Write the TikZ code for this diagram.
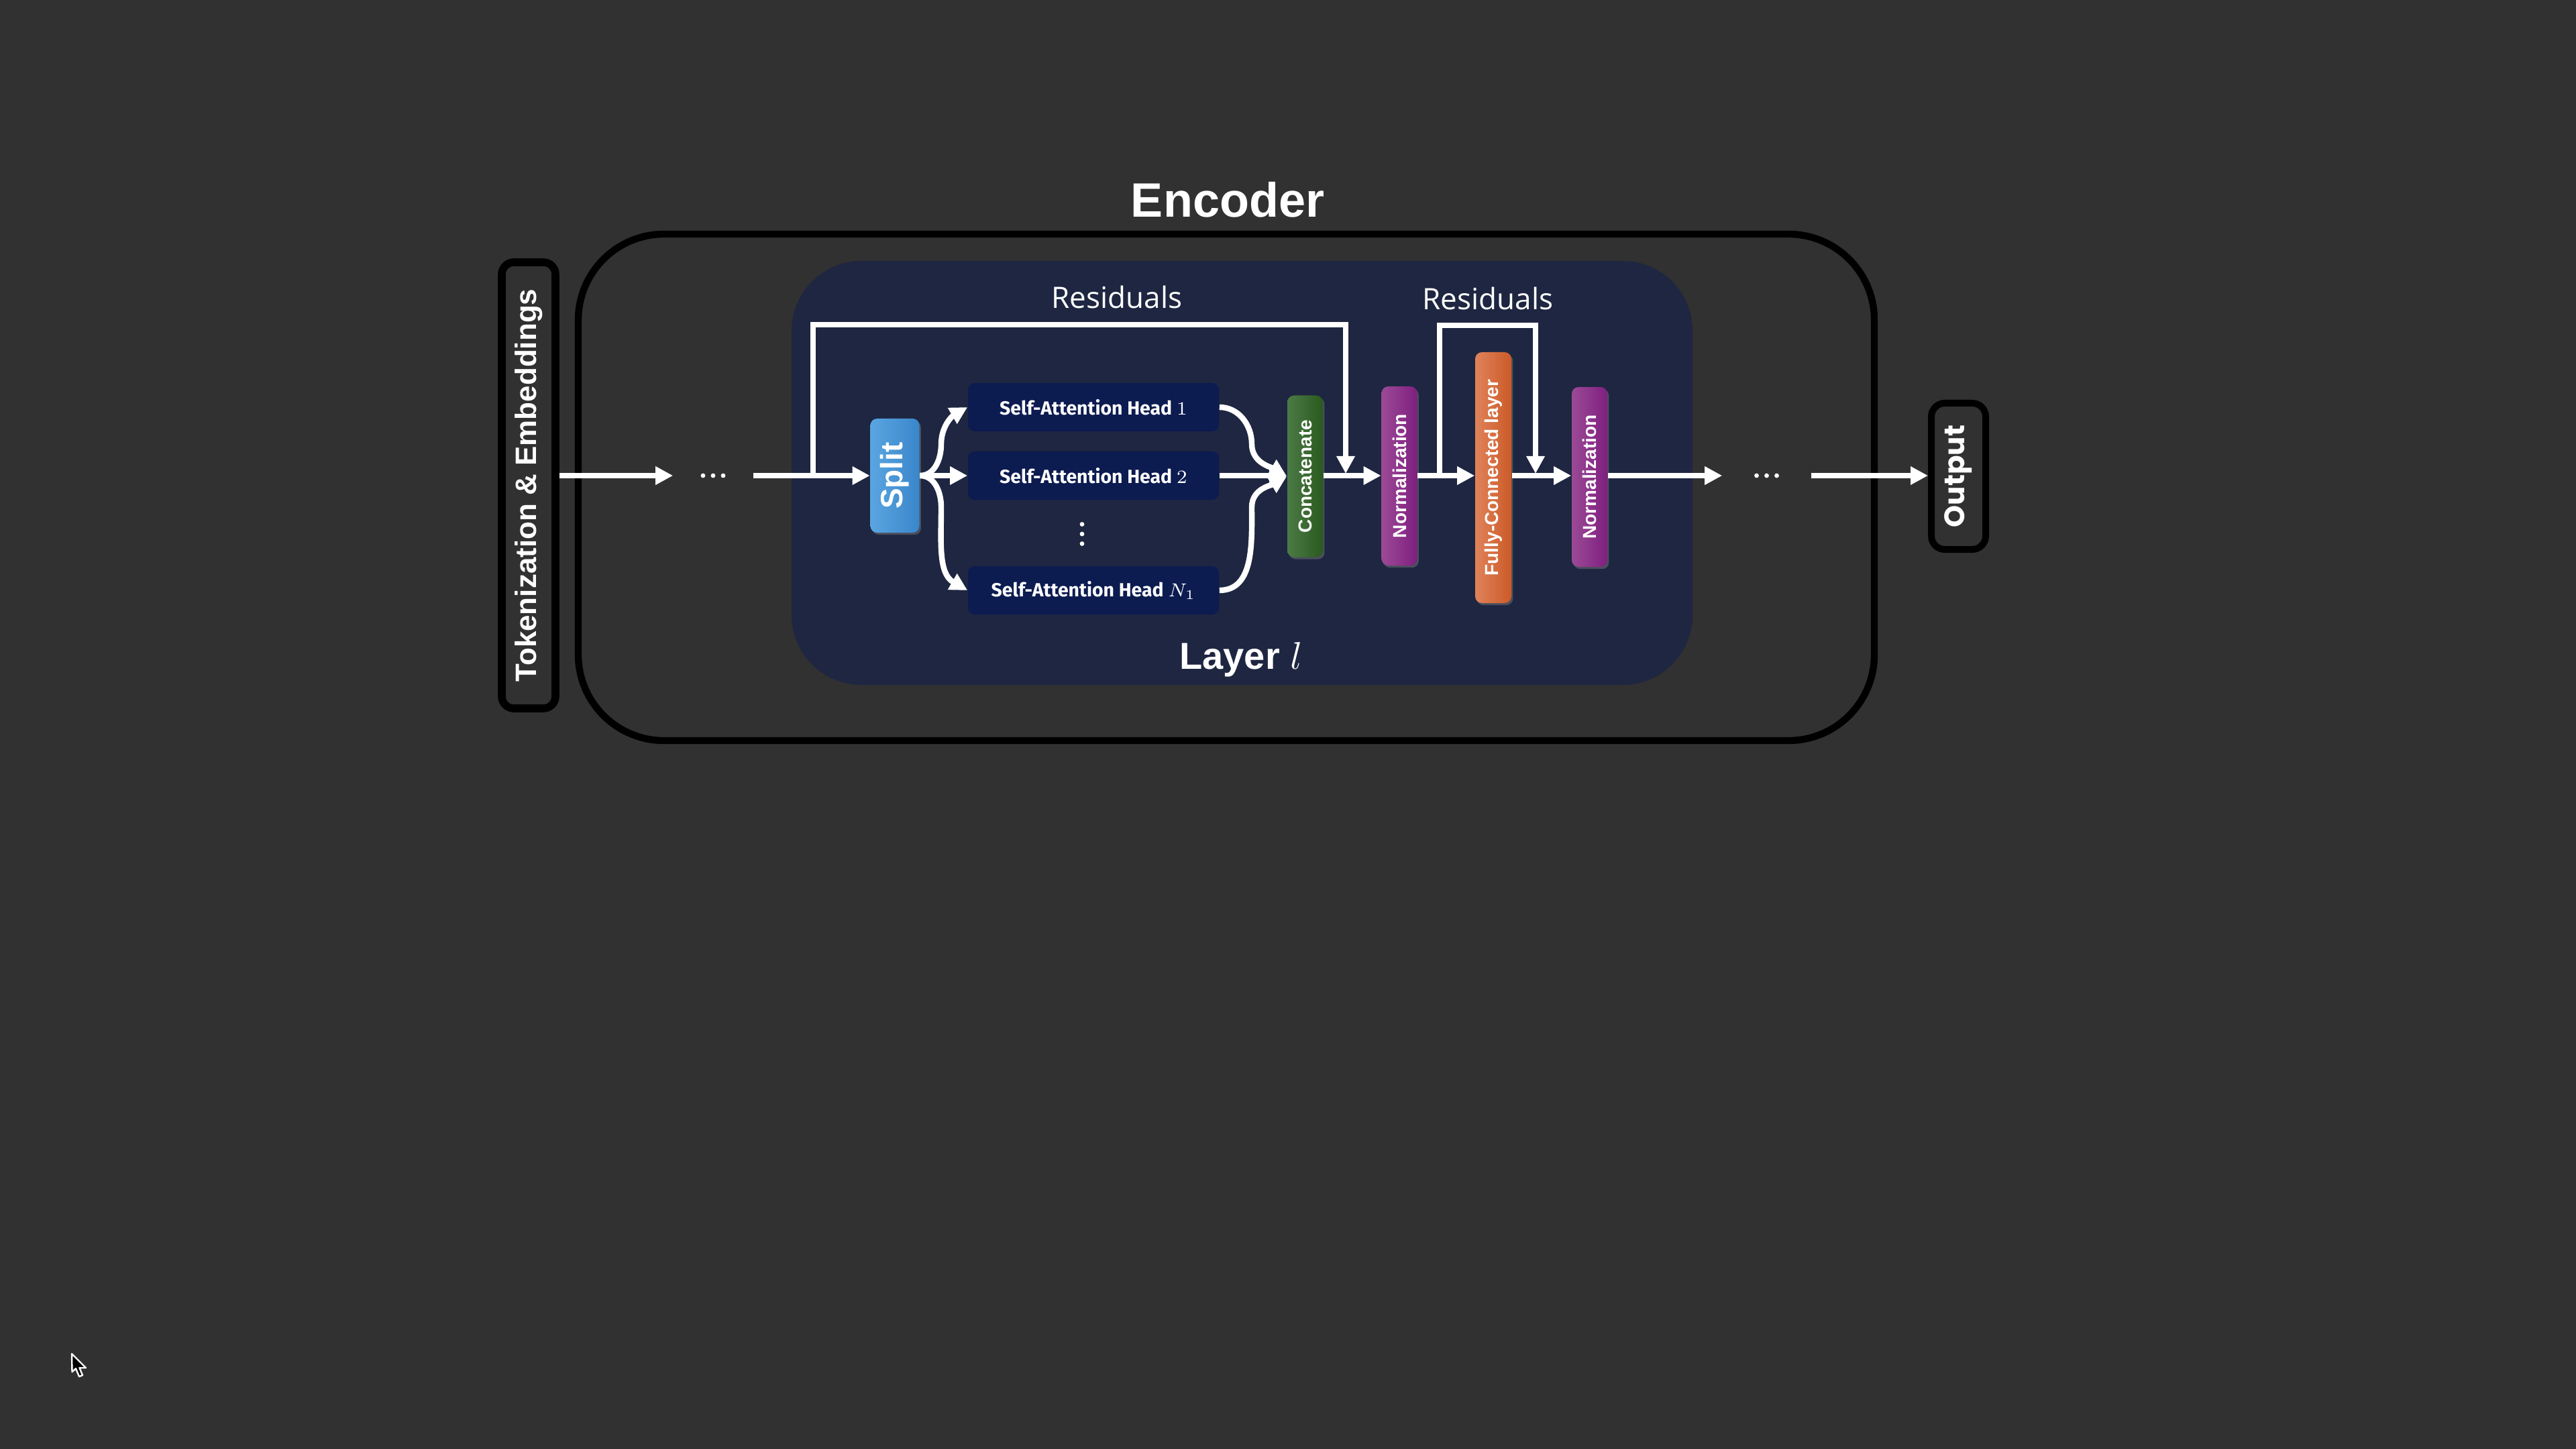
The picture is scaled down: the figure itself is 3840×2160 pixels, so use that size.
\documentclass[tikz,border=0pt]{standalone}
\usepackage{fontspec}
\usepackage{graphicx}
\setmainfont{Liberation Sans}
\newfontfamily\headfont{Fira Sans}
\newfontfamily\resfont{Open Sans}
\newfontfamily\popfont{Poppins}
\usetikzlibrary{arrows.meta,shadows}

\definecolor{bgc}{HTML}{313131}
\definecolor{layerc}{HTML}{1E2641}
\definecolor{headc}{HTML}{0C1B50}
\definecolor{splitL}{HTML}{5AA5E0}
\definecolor{splitR}{HTML}{3A86CB}
\definecolor{concL}{HTML}{4C7A47}
\definecolor{concR}{HTML}{2A5A1E}
\definecolor{normL}{HTML}{9B4A96}
\definecolor{normR}{HTML}{7F1F80}
\definecolor{fcL}{HTML}{E0835A}
\definecolor{fcM}{HTML}{E06A30}
\definecolor{fcR}{HTML}{CC5A28}

\begin{document}
\begin{tikzpicture}[x=0.25pt,y=-0.25pt,
  arr/.style={draw=white, line width=2.1pt, -{Triangle[length=6.5pt,width=6.5pt]}},
  plainline/.style={draw=white, line width=2.1pt},
  colbox/.style={rounded corners=2.5pt, inner sep=0pt, text=white,
    font=\bfseries\fontsize{7}{8}\selectfont,
    drop shadow={shadow xshift=0.6pt,shadow yshift=-0.8pt,opacity=0.45}},
  headbox/.style={fill=headc, rounded corners=2.5pt, minimum width=93.5pt,
    minimum height=18pt, inner sep=0pt, text=white,
    font=\headfont\bfseries\fontsize{7.1}{8}\selectfont},
  blackbox/.style={draw=black, fill=bgc, inner sep=0pt, text=white},
  reslabel/.style={text=white, anchor=base, font=\resfont\fontsize{11}{13}\selectfont},
  dotsnode/.style={inner sep=0pt, minimum height=4pt}
]
\useasboundingbox (0,0) rectangle (3840,2160);
\fill[bgc] (0,0) rectangle (3840,2160);

% Encoder frame and title
\node[draw=black, line width=2.6pt, rounded corners=32pt, minimum width=483pt,
      minimum height=188.75pt, inner sep=0pt] (enc) at (1828,726.5) {};
\node[text=white, anchor=base, font=\bfseries\fontsize{18}{20}\selectfont] (enctitle) at (1830,324) {Encoder};

% Layer box
\node[fill=layerc, rounded corners=26pt, minimum width=335.75pt, minimum height=158pt,
      inner sep=0pt] (layer) at (1851.5,705) {};
\node[text=white, anchor=base, font=\bfseries\fontsize{14}{16}\selectfont] (layerlabel) at (1850,997) {Layer $l$};

% Input / output boxes
\node[blackbox, line width=2.9pt, rounded corners=4.5pt, minimum width=20pt, minimum height=166.25pt,
      font=\bfseries\fontsize{11}{13}\selectfont] (tok) at (788,723.5)
      {\rotatebox{90}{Tokenization \& Embeddings}};
\node[blackbox, line width=2.5pt, rounded corners=5pt, minimum width=20.25pt, minimum height=54.5pt,
      font=\popfont\bfseries\fontsize{10.5}{12}\selectfont] (out) at (2919.5,710)
      {\rotatebox{90}{Output}};

\coordinate (mainy) at (0,709);

% Dots
\node[dotsnode, minimum width=29.5pt] (dots1) at (1063,709) {};
\node[dotsnode, minimum width=32.75pt] (dots2) at (2633.5,709) {};
\foreach \d in {-15,0,15} {
  \fill[white] (dots1.center) ++(\d,0) circle[radius=0.85pt];
  \fill[white] (dots2.center) ++(\d,0) circle[radius=0.85pt];
}

% Split and heads
\node[colbox, left color=splitL, right color=splitR, minimum width=18.25pt, minimum height=42.5pt,
      font=\bfseries\fontsize{11.5}{13}\selectfont] (split) at (1334,709) {\rotatebox{90}{Split}};
\node[headbox] (head1) at (1630,607) {Self-Attention Head $1$};
\node[headbox] (head2) at (1630,709) {Self-Attention Head $2$};
\node[headbox] (headN) at (1630,880) {Self-Attention Head $N_1$};
\node[dotsnode, minimum width=2pt, minimum height=8pt] (vdots) at (1613,796) {};
\foreach \d in {-14.5,0,14.5} {
  \fill[white] (vdots.center) ++(0,\d) circle[radius=0.85pt];
}

% Coloured column boxes
\node[colbox, left color=concL, right color=concR, minimum width=13.25pt, minimum height=60.25pt]
      (concat) at (1945.5,710) {\rotatebox{90}{Concatenate}};
\node[colbox, left color=normL, right color=normR, minimum width=13.25pt, minimum height=66.75pt]
      (norm1) at (2086,709.5) {\rotatebox{90}{Normalization}};
\node[colbox, left color=fcL, middle color=fcM, right color=fcR, minimum width=13.5pt, minimum height=93.5pt]
      (fc) at (2226,712) {\rotatebox{90}{Fully-Connected layer}};
\node[colbox, left color=normL, right color=normR, minimum width=13.25pt, minimum height=67pt]
      (norm2) at (2369.5,711) {\rotatebox{90}{Normalization}};

% Residual labels
\node[reslabel] (res1) at (1665,460) {Residuals};
\node[reslabel] (res2) at (2218,462) {Residuals};

% Main flow arrows
\draw[arr] (tok.east |- mainy) -- (dots1.west);
\draw[arr] (dots1.east) -- (split.west);
\draw[arr] (split.east) -- (head2.west);
\draw[arr] (head2.east) -- (head2.east -| concat.west);
\draw[arr] (concat.east |- mainy) -- (norm1.west |- mainy);
\draw[arr] (norm1.east |- mainy) -- (fc.west |- mainy);
\draw[arr] (fc.east |- mainy) -- (norm2.west |- mainy);
\draw[arr] (norm2.east |- mainy) -- (dots2.west);
\draw[arr] (dots2.east) -- (out.west |- mainy);

% Split fan-out curves
\draw[arr] (split.east) to[out=0,in=270] (1403,662) to[out=90,in=210] (head1.west);
\draw[arr] (split.east) to[out=0,in=90] (1403,756) to[out=270,in=150] (headN.west);
% Fan-in curves
\draw[arr] (head1.east) to[out=0,in=90] (1866,662) to[out=270,in=150] (concat.west);
\draw[arr] (headN.east) to[out=0,in=270] (1866,756) to[out=90,in=210] (concat.west);

% Residual connections
\coordinate (r1start) at (1212,709);
\coordinate (r1top) at (1212,484);
\coordinate (r1end) at (2006,706);
\draw[arr] (r1start) -- (r1top) -| (r1end);
\coordinate (r2start) at (2146,709);
\coordinate (r2top) at (2146,485);
\coordinate (r2end) at (2289,706);
\draw[arr] (r2start) -- (r2top) -| (r2end);

% Mouse pointer
\filldraw[fill=black, draw=white, line width=0.6pt, line join=round]
  (107,2018) -- (107.5,2045) -- (113,2040) -- (118,2052) -- (123,2050) -- (118.5,2039) -- (128,2039) -- cycle;
\end{tikzpicture}
\end{document}
